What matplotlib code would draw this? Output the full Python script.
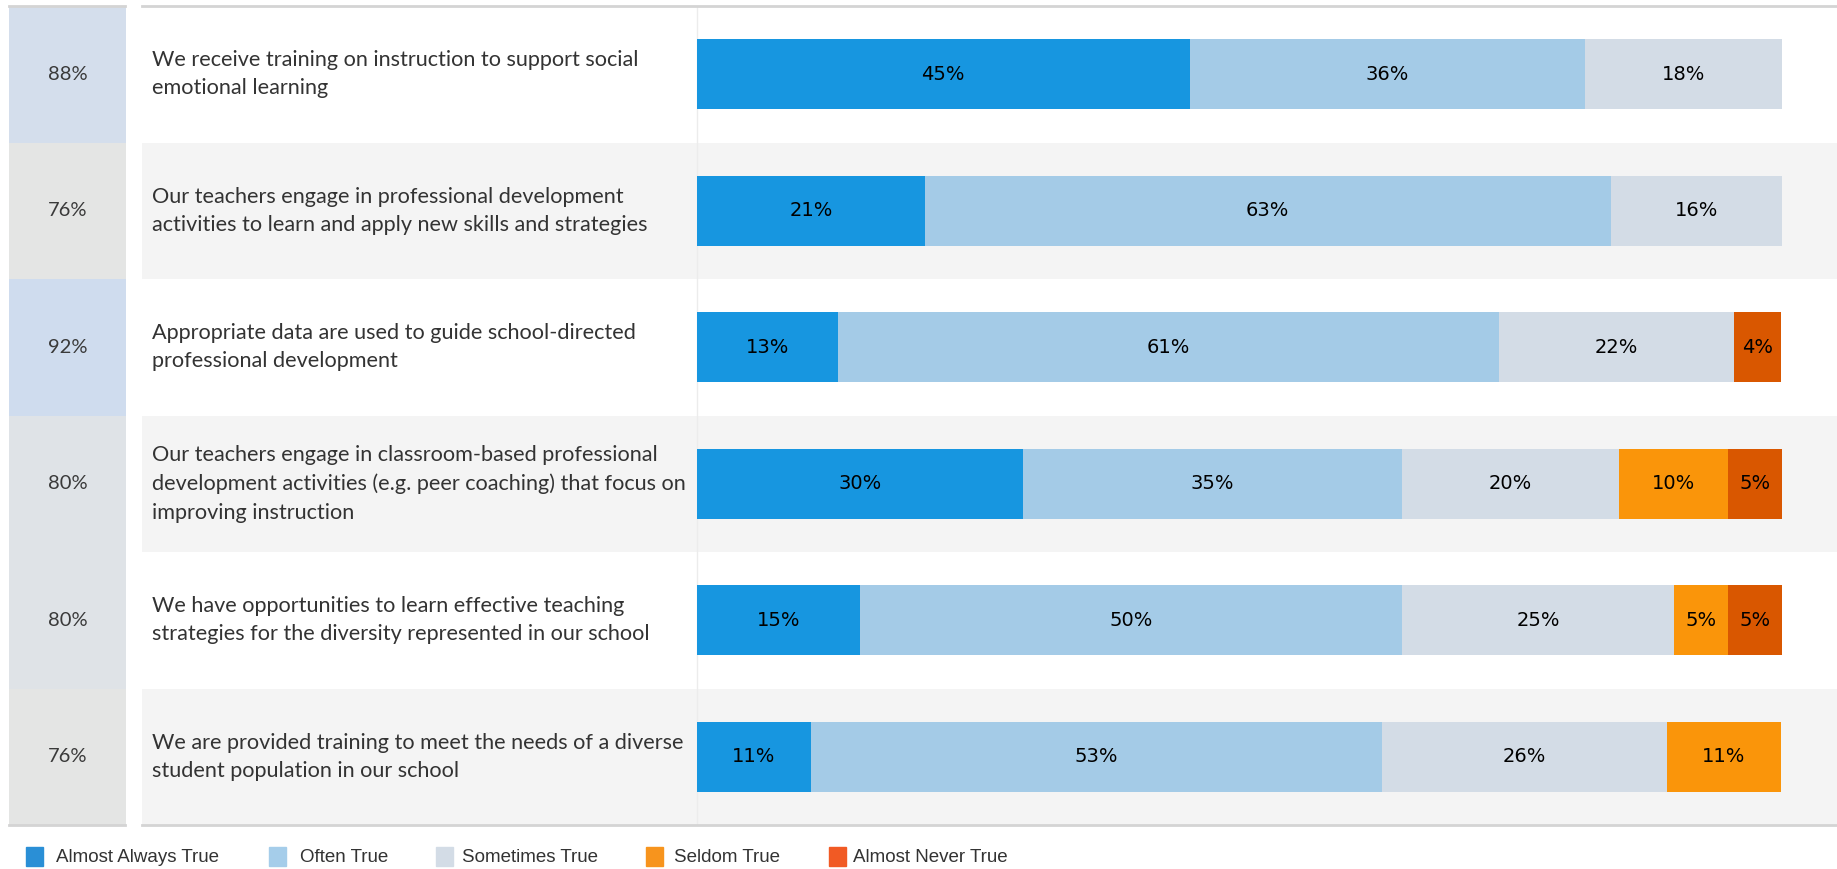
import numpy as np
import matplotlib
matplotlib.use('Agg')
import matplotlib.pyplot as plt
from matplotlib.patches import Rectangle
from matplotlib.colors import LinearSegmentedColormap

# survey items, top to bottom
questions = [
    "We receive training on instruction to support social\nemotional learning",
    "Our teachers engage in professional development\nactivities to learn and apply new skills and strategies",
    "Appropriate data are used to guide school-directed\nprofessional development",
    "Our teachers engage in classroom-based professional\ndevelopment activities (e.g. peer coaching) that focus on\nimproving instruction",
    "We have opportunities to learn effective teaching\nstrategies for the diversity represented in our school",
    "We are provided training to meet the needs of a diverse\nstudent population in our school",
]
overall = [88, 76, 92, 80, 80, 76]

categories = ["Almost Always True", "Often True", "Sometimes True", "Seldom True", "Almost Never True"]
almost_always = [45.4, 21.0, 13.0, 30.0, 15.0, 10.5]
often = [36.4, 63.2, 60.9, 35.0, 50.0, 52.6]
sometimes = [18.2, 15.8, 21.7, 20.0, 25.0, 26.3]
seldom = [0, 0, 0, 10.0, 5.0, 10.5]
almost_never = [0, 0, 4.3, 5.0, 5.0, 0]

bar_colors = ["#1796e0", "#a4cbe7", "#d3dce6", "#fa950a", "#d95700"]
legend_colors = ["#2a8fd6", "#a5cdea", "#d3dce6", "#f7941d", "#f15a24"]

W, H = 1837, 869
fig = plt.figure(figsize=(W / 100, H / 100), dpi=100)
fig.patch.set_facecolor('white')

top_px, bot_px = 6, 825
n = len(questions)


def fx(px):
    return px / W


y0 = (H - bot_px) / H
hh = (bot_px - top_px) / H

# background bands behind text + bars
ax_bg = fig.add_axes([fx(142), y0, fx(W - 142), hh])
ax_bg.set_xlim(0, 1)
ax_bg.set_ylim(n - 0.5, -0.5)
ax_bg.axis('off')
for i in range(n):
    if i % 2 == 1:
        ax_bg.axhspan(i - 0.5, i + 0.5, color='#f4f4f4', lw=0)
    ax_bg.text(10 / (W - 142), i, questions[i], ha='left', va='center',
               fontsize=15.6, family='Lato', color='#333333', linespacing=1.52)
# separator before bar panel
sep = (697 - 142) / (W - 142)
ax_bg.plot([sep, sep], [-0.5, n - 0.5], color='#ececec', lw=1)

# left overall column
cmap = LinearSegmentedColormap.from_list('ov', ['#e4e5e4', '#cfdcee'])
ax_left = fig.add_axes([fx(9), y0, fx(117), hh])
ax_left.barh(range(n), [1] * n, height=1.0, left=0,
             color=[cmap((v - 76) / 16) for v in overall])
ax_left.set_xlim(0, 1)
ax_left.set_ylim(n - 0.5, -0.5)
ax_left.axis('off')
for i, v in enumerate(overall):
    ax_left.text(0.5, i, f"{v}%", ha='center', va='center', fontsize=14.5,
                 family='Lato', color='#3a3a3a')

# stacked bars
ax_bar = fig.add_axes([fx(697), y0, fx(W - 697), hh])
ax_bar.patch.set_alpha(0)
ax_bar.set_xlim(0, 100 * (W - 697) / 1085)
ax_bar.set_ylim(n - 0.5, -0.5)
ax_bar.axis('off')
series = [almost_always, often, sometimes, seldom, almost_never]
left = np.zeros(n)
for vals, col in zip(series, bar_colors):
    vals = np.array(vals, dtype=float)
    ax_bar.barh(range(n), vals, left=left, height=0.515, color=col, lw=0)
    for i, v in enumerate(vals):
        if v > 0:
            ax_bar.text(left[i] + v / 2, i, f"{int(np.floor(v + 0.5))}%", ha='center',
                        va='center', fontsize=14, color='black', family='DejaVu Sans')
    left += vals

# top and bottom rules
for yp in (top_px, bot_px):
    yy = 1 - yp / H
    fig.add_artist(plt.Line2D([fx(9), fx(125)], [yy, yy], color='#d4d4d4', lw=2))
    fig.add_artist(plt.Line2D([fx(142), 1], [yy, yy], color='#d4d4d4', lw=2))

# legend
sw_x = [26, 269, 436, 646, 829]
txt_x = [56, 300, 462, 674, 853]
ly = 1 - 857 / H
for x, tx, lab, col in zip(sw_x, txt_x, categories, legend_colors):
    fig.add_artist(Rectangle((fx(x), 1 - 866 / H), fx(17), 19 / H, color=col,
                             transform=fig.transFigure))
    fig.text(fx(tx), ly, lab, ha='left', va='center', fontsize=13.5,
             family='Liberation Sans', color='#333333')

fig.savefig('out.png', dpi=100, facecolor='white')
